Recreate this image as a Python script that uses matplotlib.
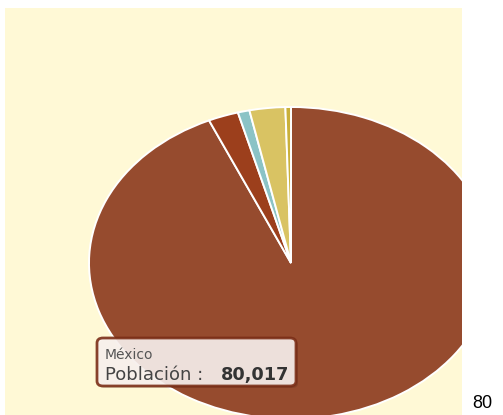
"""Población por país de nacimiento - pie chart (elliptical) with tooltip."""

import matplotlib
matplotlib.use("Agg")
import matplotlib.pyplot as plt
from matplotlib.patches import FancyBboxPatch

W, H = 503, 415

# data (clockwise from 12 o'clock)
paises = ["México", "Otro 1", "Otro 2", "Otro 3", "Otro 4"]
poblacion = [80017, 2070, 800, 2450, 380]
colores = ["#964B2E", "#9C3F1C", "#8BC3C6", "#D9C363", "#C9B03A"]

BG = "#FFF9D6"

fig = plt.figure(figsize=(W / 100, H / 100), dpi=100)
fig.patch.set_facecolor("white")


def px(x, y):
    """pixel (from top-left) -> figure fraction"""
    return x / W, 1 - y / H


# panel 5..462 x 8..415 px, pie centre (291, 263), radii 202 x 156 px
x0, y0, x1, y1 = 5, 8, 462, 415
cx, cy, rx, ry = 291, 263, 202, 156
ax = fig.add_axes([x0 / W, 1 - y1 / H, (x1 - x0) / W, (y1 - y0) / H])
wedges, _ = ax.pie(poblacion, colors=colores, startangle=90, counterclock=False,
                   radius=1, center=(0, 0), frame=True,
                   wedgeprops=dict(edgecolor="white", linewidth=1.4))
ax.set_facecolor(BG)
for w in wedges:
    w.set_clip_on(True)
    w.set_clip_path(ax.patch)
ax.set_aspect("auto")
ax.set_xlim((x0 - cx) / rx, (x1 - cx) / rx)
ax.set_ylim((cy - y1) / ry, (cy - y0) / ry)
ax.set_xticks([])
ax.set_yticks([])
for s in ax.spines.values():
    s.set_visible(False)

# tooltip
bx0, by0, bx1, by1 = 97, 338, 296, 386
shadow = FancyBboxPatch(px(bx0 + 2, by1 + 2), (bx1 - bx0) / W, (by1 - by0) / H,
                        boxstyle="round,pad=0,rounding_size=0.012",
                        transform=fig.transFigure, facecolor="black",
                        alpha=0.12, edgecolor="none", zorder=4)
fig.patches.append(shadow)
box = FancyBboxPatch(px(bx0, by1), (bx1 - bx0) / W, (by1 - by0) / H,
                     boxstyle="round,pad=0,rounding_size=0.012",
                     transform=fig.transFigure, facecolor="#FAF3F0",
                     alpha=0.9, edgecolor="#7B2E17", linewidth=2, zorder=5)
fig.patches.append(box)
fig.text(*px(105, 359), paises[0], fontsize=10, color="#555555",
         family="DejaVu Sans", zorder=6)
fig.text(*px(105, 380), "Población :", fontsize=13, color="#444444",
         family="DejaVu Sans", zorder=6)
fig.text(*px(221, 380), f"{poblacion[0]:,}", fontsize=12.8, color="#333333",
         family="DejaVu Sans", fontweight="bold", zorder=6)

# truncated label outside the panel
fig.text(*px(472, 408), "80", fontsize=13, color="black",
         family="Liberation Sans")

fig.savefig("out.png", dpi=100)
